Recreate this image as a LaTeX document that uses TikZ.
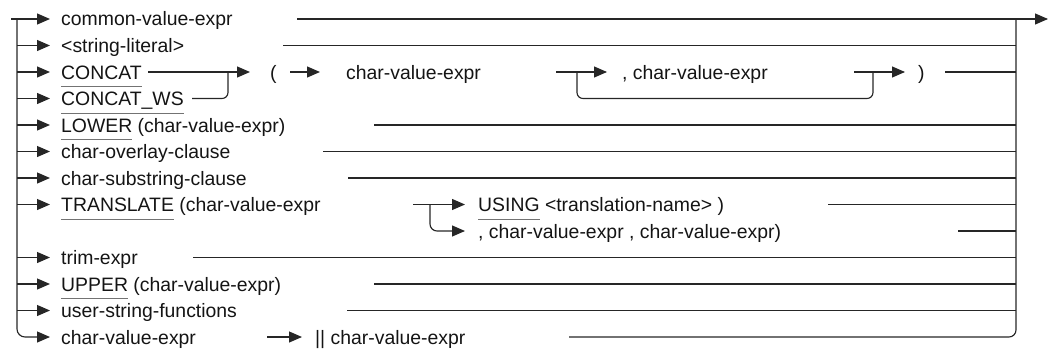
\documentclass[tikz,border=0pt]{standalone}
\usepackage{fontspec}
\setmainfont{Liberation Sans}
\usetikzlibrary{arrows.meta}
\newcommand\lbfont{\fontsize{19.4pt}{22pt}\selectfont}
\newcommand\kwul[1]{\setbox0=\hbox{#1}\rlap{\color{black!55}\rule[-8pt]{\wd0}{0.9pt}}\box0\relax}
\tikzset{
  ln/.style={draw=black!85, line width=1.15pt},
  arr/.style={ln, -{Triangle[length=13pt,width=11pt]}},
  lbl/.style={anchor=base west, inner sep=0pt, font=\lbfont, text=black!92},
}
\begin{document}
\begin{tikzpicture}[x=1pt,y=-1pt]
\useasboundingbox (0,0) rectangle (1052,353);
% row coordinates
\foreach \i/\y in {1/19,2/45.5,3/72,4/98.5,5/125,6/151.5,7/178,8/204.5,9/231,10/257.5,11/284,12/310.5,13/337}{
  \coordinate (l\i) at (17,\y);
  \coordinate (a\i) at (50,\y);
  \coordinate (r\i) at (1016,\y);
}
\coordinate (in) at (11,19);
\coordinate (out) at (1048,19);
% labels on the main rail
\node[lbl] (t1) at (61,26) {common-value-expr};
\node[lbl] (t2) at (61,52.5) {<string-literal>};
\node[lbl] (t3) at (61,79) {\kwul{CONCAT}};
\node[lbl] (t4) at (61,105.5) {\kwul{CONCAT\_WS}};
\node[lbl] (t5) at (61,132) {\kwul{LOWER} (char-value-expr)};
\node[lbl] (t6) at (61,158.5) {char-overlay-clause};
\node[lbl] (t7) at (61,185) {char-substring-clause};
\node[lbl] (t8) at (61,211.5) {\kwul{TRANSLATE} (char-value-expr};
\node[lbl] (t10) at (61,264.5) {trim-expr};
\node[lbl] (t11) at (61,291) {\kwul{UPPER} (char-value-expr)};
\node[lbl] (t12) at (61,317.5) {user-string-functions};
\node[lbl] (t13) at (61,344) {char-value-expr};
% other labels
\node[lbl] (p3) at (270,79) {(};
\node[lbl] (cv3) at (346,79) {char-value-expr};
\node[lbl] (ccv3) at (622,79) {, char-value-expr};
\node[lbl] (rp3) at (918,79) {)};
\node[lbl] (us8) at (478,211.5) {\kwul{USING} <translation-name> )};
\node[lbl] (cc9) at (478,238) {, char-value-expr , char-value-expr)};
\node[lbl] (bar13) at (315,344) {|| char-value-expr};
% left rail
\draw[arr] (in) -- (a1);
\draw[arr, rounded corners=8pt] (l1) |- (a13);
\foreach \i in {2,...,8,10,11,12}{\draw[arr] (l\i) -- (a\i);}
% right rail
\coordinate (s13) at (569,337);
\draw[ln, rounded corners=7pt] (s13) -| (r1);
\coordinate (s1) at (297,19);
\draw[arr] (s1) -- (out);
\coordinate (s2) at (283,45.5);
\draw[ln] (s2) -- (r2);
% row 3 / 4
\coordinate (c3a) at (148,72); \coordinate (c3b) at (250,72);
\draw[arr] (c3a) -- (c3b);
\coordinate (c4a) at (192,98.5); \coordinate (c4j) at (228,72);
\draw[ln, rounded corners=6pt] (c4a) -| (c4j);
\coordinate (c3c) at (290,72); \coordinate (c3d) at (320,72);
\draw[arr] (c3c) -- (c3d);
\coordinate (c3e) at (556,72); \coordinate (c3f) at (607,72);
\draw[arr] (c3e) -- (c3f);
\coordinate (lpA) at (577,72); \coordinate (lpB) at (873,98.5); \coordinate (lpC) at (873,72);
\draw[ln, rounded corners=6pt] (lpA) |- (lpB) -- (lpC);
\coordinate (c3g) at (854,72); \coordinate (c3h) at (905,72);
\draw[arr] (c3g) -- (c3h);
\coordinate (c3i) at (945,72);
\draw[ln] (c3i) -- (r3);
% rows 5-7
\coordinate (s5) at (374,125); \draw[ln] (s5) -- (r5);
\coordinate (s6) at (323,151.5); \draw[ln] (s6) -- (r6);
\coordinate (s7) at (348,178); \draw[ln] (s7) -- (r7);
% row 8 / 9
\coordinate (c8a) at (413,204.5); \coordinate (c8b) at (465,204.5);
\draw[arr] (c8a) -- (c8b);
\coordinate (c8j) at (430,204.5); \coordinate (c9b) at (465,231);
\draw[arr, rounded corners=7pt] (c8j) |- (c9b);
\coordinate (s8) at (828,204.5); \draw[ln] (s8) -- (r8);
\coordinate (s9) at (958,231); \draw[ln] (s9) -- (r9);
% rows 10-12
\coordinate (s10) at (193,257.5); \draw[ln] (s10) -- (r10);
\coordinate (s11) at (374,284); \draw[ln] (s11) -- (r11);
\coordinate (s12) at (347,310.5); \draw[ln] (s12) -- (r12);
% row 13
\coordinate (c13a) at (267,337); \coordinate (c13b) at (302,337);
\draw[arr] (c13a) -- (c13b);
\end{tikzpicture}
\end{document}
